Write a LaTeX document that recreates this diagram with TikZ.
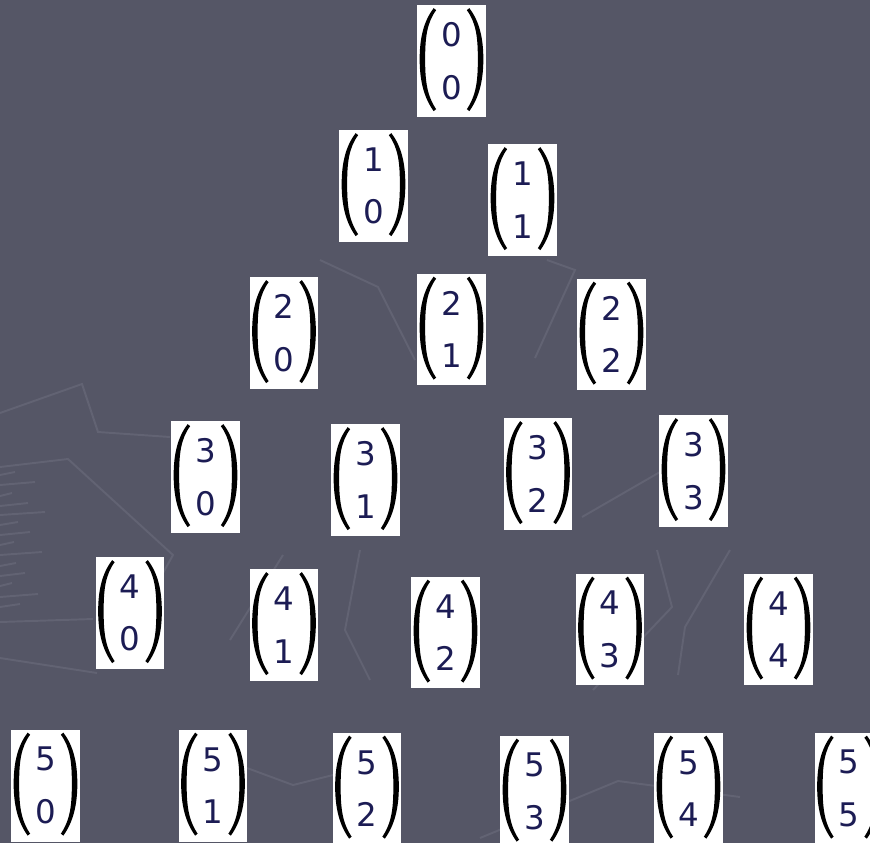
\documentclass[tikz,border=0pt]{standalone}
\usepackage{fontspec}
\usetikzlibrary{positioning}
\newfontfamily\binfont{DejaVu Sans}

\definecolor{fondgris}{RGB}{85,86,102}
\definecolor{traitfond}{RGB}{98,99,115}
\definecolor{chiffre}{RGB}{28,28,84}

% contour d'une parenthese (en pixels, origine au coin haut gauche de la case)
\newcommand{\parenshape}{(17,5) .. controls (7,18) and (3,35) .. (3,56)
  .. controls (3,77) and (7,94) .. (17,108) -- (19.5,106)
  .. controls (10,92) and (8.5,77) .. (8.5,56)
  .. controls (8.5,35) and (10,20) .. (19.5,7) -- cycle}

\tikzset{
  coef/.style={fill=white, inner sep=0pt, minimum width=1.38cm, minimum height=2.24cm,
    font=\binfont\fontsize{18.5}{30}\selectfont, text=chiffre, align=center},
  texture/.style={traitfond, line width=1.1pt}
}

\begin{document}
\begin{tikzpicture}[x=0.02cm, y=-0.02cm]
    % --- Fond ---
    \useasboundingbox (0,0) rectangle (870,843);
    \clip (0,0) rectangle (870,843);
    \fill[fondgris] (0,0) rectangle (870,843);

    % --- Lignes pales du fond ---
    \draw[texture] (0,413) -- (82,384) -- (98,432) -- (170,437);
    \draw[texture] (0,467) -- (68,459) -- (173,555) -- (163,573);
    \draw[texture] (0,622) -- (93,619);
    \draw[texture] (0,658) -- (97,673);
    \draw[texture] (247,768) -- (293,785) -- (333,775);
    \draw[texture] (480,838) -- (618,781) -- (740,797);
    \draw[texture] (283,555) -- (230,640);
    \draw[texture] (360,550) -- (345,630) -- (370,680);
    \draw[texture] (657,550) -- (672,607) -- (593,690);
    \draw[texture] (730,550) -- (685,627) -- (678,675);
    \draw[texture] (582,517) -- (660,472);
    \draw[texture] (320,260) -- (378,287) -- (415,360);
    \draw[texture] (547,260) -- (575,270) -- (535,358);
    \foreach \yy/\ll in {475/15, 485/35, 496/12, 506/28, 515/45, 525/18, 535/30,
                         545/14, 555/42, 566/16, 576/25, 586/12, 597/38, 607/20} {
        \draw[texture] (0,\yy) -- (\ll,\yy-3);
    }

    % ==============================================================
    % Ligne n = 0 et n = 1
    % ==============================================================
    \node[coef] (c00) at (451.5,61)    {0\\0};
    \node[coef] (c10) at (373.5,186)   {1\\0};
    \node[coef] (c11) at (522.5,200)   {1\\1};

    % ==============================================================
    % Ligne n = 2
    % ==============================================================
    \node[coef] (c20) at (284,333)     {2\\0};
    \node[coef] (c21) at (451.5,329.5) {2\\1};
    \node[coef] (c22) at (611.5,334.5) {2\\2};

    % ==============================================================
    % Ligne n = 3
    % ==============================================================
    \node[coef] (c30) at (205.5,477)   {3\\0};
    \node[coef] (c31) at (365.5,480)   {3\\1};
    \node[coef] (c32) at (538,474)     {3\\2};
    \node[coef] (c33) at (693.5,471)   {3\\3};

    % ==============================================================
    % Ligne n = 4
    % ==============================================================
    \node[coef] (c40) at (130,613)     {4\\0};
    \node[coef] (c41) at (284,625)     {4\\1};
    \node[coef] (c42) at (445.5,632.5) {4\\2};
    \node[coef] (c43) at (610,629.5)   {4\\3};
    \node[coef] (c44) at (778.5,629.5) {4\\4};

    % ==============================================================
    % Ligne n = 5 (coupee par le bas de l'image)
    % ==============================================================
    \node[coef] (c50) at (45.5,785.5)  {5\\0};
    \node[coef] (c51) at (213,785.5)   {5\\1};
    \node[coef] (c52) at (367,788.5)   {5\\2};
    \node[coef] (c53) at (534.5,791.5) {5\\3};
    \node[coef] (c54) at (688.5,788.5) {5\\4};
    \node[coef] (c55) at (849,788.5)   {5\\5};

    % --- Parentheses de chaque coefficient ---
    \foreach \c in {c00,c10,c11,c20,c21,c22,c30,c31,c32,c33,
                    c40,c41,c42,c43,c44,c50,c51,c52,c53,c54,c55} {
        \begin{scope}[shift={([yshift=0.03cm]\c.north west)}]
            \fill[black] \parenshape;
        \end{scope}
        \begin{scope}[shift={([yshift=0.03cm]\c.north east)}, xscale=-1]
            \fill[black] \parenshape;
        \end{scope}
    }

\end{tikzpicture}
\end{document}
